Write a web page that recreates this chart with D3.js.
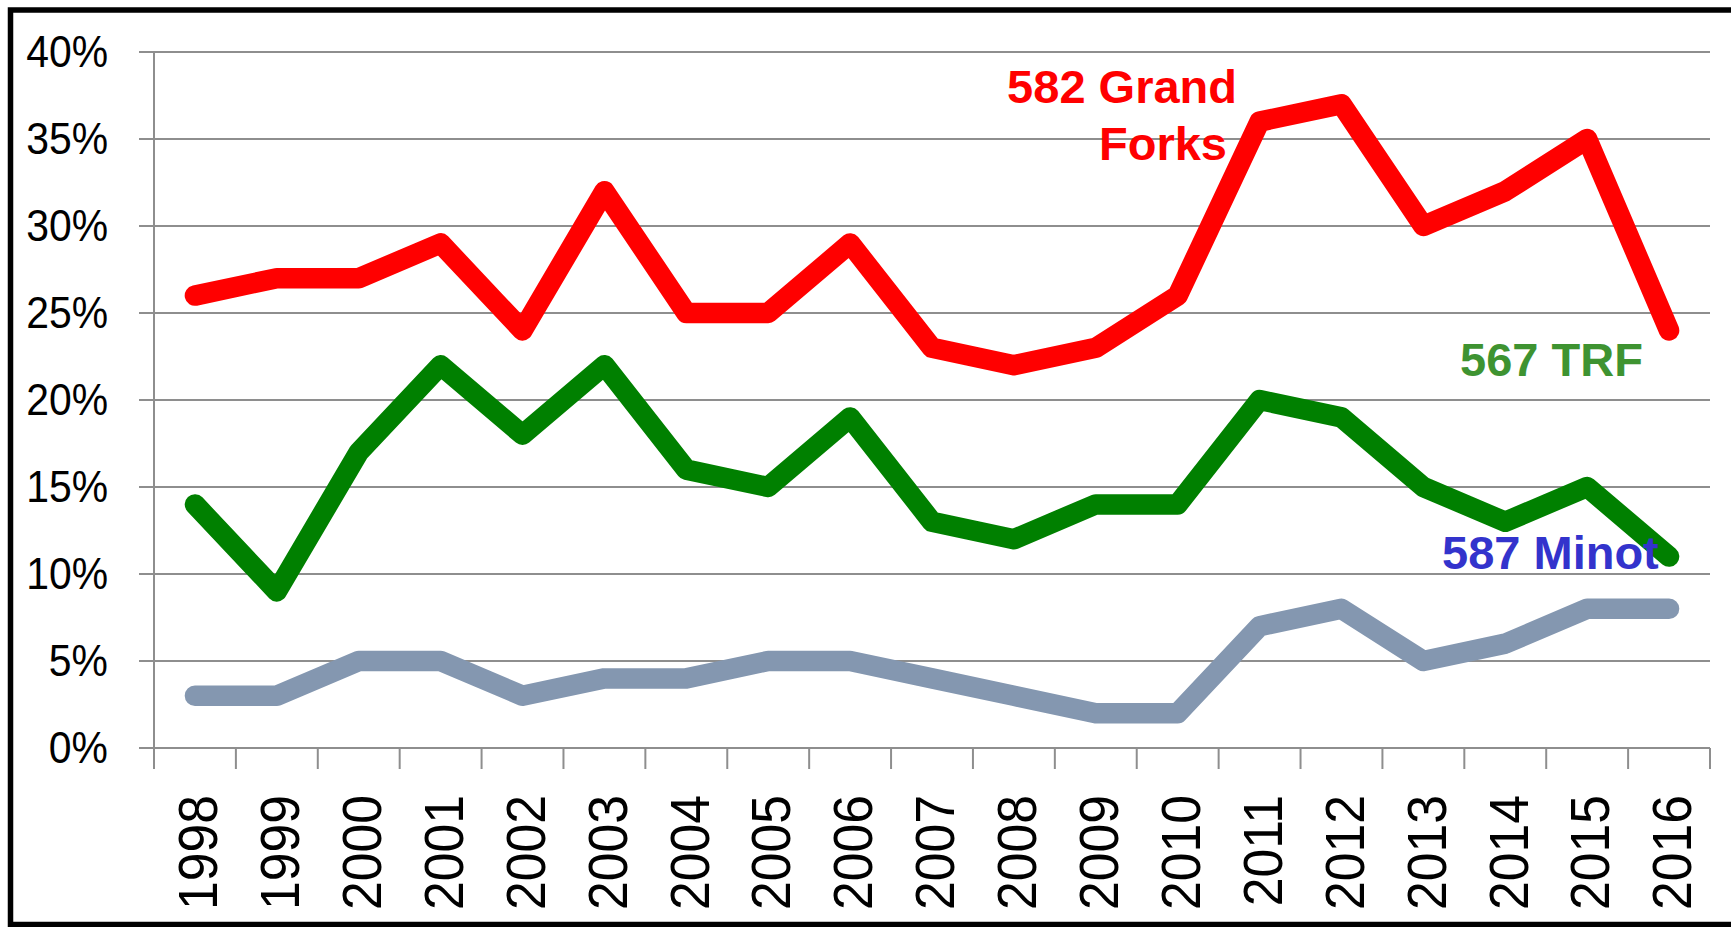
<!DOCTYPE html>
<html>
<head>
<meta charset="utf-8">
<script src="https://cdn.jsdelivr.net/npm/d3@7"></script>
<style>
  html, body { margin: 0; padding: 0; background: #fff; }
  svg { display: block; }
</style>
</head>
<body>
<svg id="chart" width="1731" height="927"></svg>
<script>
// Yearly shares (%) by station, 1998–2016
const years = ["1998","1999","2000","2001","2002","2003","2004","2005","2006","2007",
               "2008","2009","2010","2011","2012","2013","2014","2015","2016"];
const grandForks = [26, 27, 27, 29, 24, 32, 25, 25, 29, 23, 22, 23, 26, 36, 37, 30, 32, 35, 24];
const trf        = [14,  9, 17, 22, 18, 22, 16, 15, 19, 13, 12, 14, 14, 20, 19, 15, 13, 15, 11];
const minot      = [ 3,  3,  5,  5,  3,  4,  4,  5,  5,  4,  3,  2,  2,  7,  8,  5,  6,  8,  8];
const yTicks     = [0, 5, 10, 15, 20, 25, 30, 35, 40];

const series = [
  { name: "587 Minot",       values: minot,      color: "#8497b0" },
  { name: "567 TRF",         values: trf,        color: "#008000" },
  { name: "582 Grand Forks", values: grandForks, color: "#ff0000" }
];

const svg = d3.select("#chart");

const plot = { left: 154, right: 1710, top: 52, bottom: 748 };

const x = d3.scaleBand().domain(years).range([plot.left, plot.right]).padding(0);
const y = d3.scaleLinear().domain([0, 40]).range([plot.bottom, plot.top]);
const cx = d => x(d) + x.bandwidth() / 2;

// outer frame
svg.append("rect")
  .attr("x", 10.5).attr("y", 10)
  .attr("width", 1760).attr("height", 914.5)
  .attr("fill", "none").attr("stroke", "#000").attr("stroke-width", 5.5);

const gridColor = "#8e8e8e";

// horizontal gridlines with left tick stubs
svg.append("g").selectAll("line").data(yTicks).join("line")
  .attr("x1", plot.left - 15).attr("x2", plot.right)
  .attr("y1", d => y(d)).attr("y2", d => y(d))
  .attr("stroke", gridColor).attr("stroke-width", 2);

// vertical axis line
svg.append("line")
  .attr("x1", plot.left).attr("x2", plot.left)
  .attr("y1", y(40)).attr("y2", plot.bottom + 21)
  .attr("stroke", gridColor).attr("stroke-width", 2);

// category boundary ticks below the baseline
const boundaries = years.map(d => x(d)).concat([plot.right]);
svg.append("g").selectAll("line").data(boundaries).join("line")
  .attr("x1", d => d).attr("x2", d => d)
  .attr("y1", plot.bottom).attr("y2", plot.bottom + 21)
  .attr("stroke", gridColor).attr("stroke-width", 2);

// y tick labels
const fmtPct = d => d + "%";
svg.append("g").selectAll("text").data(yTicks).join("text")
  .attr("transform", d => `translate(108,${y(d)}) scale(0.93,1)`)
  .attr("dy", "0.35em")
  .attr("text-anchor", "end")
  .attr("font-family", "Liberation Sans, Arial, sans-serif")
  .attr("font-size", 44)
  .attr("fill", "#000")
  .text(fmtPct);

// x tick labels, rotated
svg.append("g").selectAll("text").data(years).join("text")
  .attr("transform", d => `translate(${cx(d) + 3},795) rotate(-90) scale(0.94,1)`)
  .attr("dy", "0.35em")
  .attr("text-anchor", "end")
  .attr("font-family", "Liberation Sans, Arial, sans-serif")
  .attr("font-size", 55)
  .attr("fill", "#000")
  .text(d => d);

// series lines
const line = d3.line()
  .x((v, i) => cx(years[i]))
  .y(v => y(v));

svg.append("g").selectAll("path").data(series).join("path")
  .attr("d", s => line(s.values))
  .attr("fill", "none")
  .attr("stroke", s => s.color)
  .attr("stroke-width", 20.5)
  .attr("stroke-linejoin", "round")
  .attr("stroke-linecap", "round");

// series labels
const labelFont = "Liberation Sans, Arial, sans-serif";
const labels = svg.append("g")
  .attr("font-family", labelFont)
  .attr("font-weight", "bold")
  .attr("font-size", 47);

labels.append("text").attr("x", 1237).attr("y", 103).attr("text-anchor", "end")
  .attr("fill", "#ff0000").text("582 Grand");
labels.append("text").attr("x", 1227).attr("y", 160).attr("text-anchor", "end")
  .attr("fill", "#ff0000").text("Forks");
labels.append("text").attr("x", 1460).attr("y", 376)
  .attr("fill", "#3e9331").text("567 TRF");
labels.append("text").attr("x", 1442).attr("y", 569)
  .attr("fill", "#3333cc").text("587 Minot");
</script>
</body>
</html>
